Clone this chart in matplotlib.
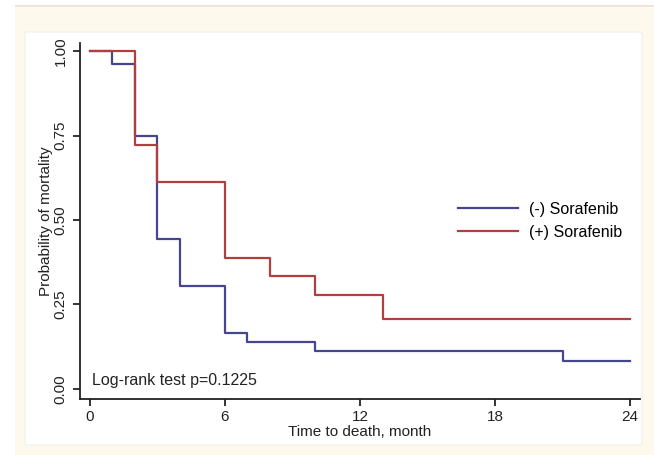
import numpy as np
import matplotlib
matplotlib.use('Agg')
import matplotlib.pyplot as plt
from matplotlib.patches import FancyBboxPatch, Rectangle

plt.rcParams['font.family'] = ['Liberation Sans', 'DejaVu Sans']

# Kaplan-Meier style step data
time_neg = [0, 1, 2, 3, 4, 6, 7, 10, 21, 24]
prob_neg = [1.0, 0.963, 0.75, 0.444, 0.306, 0.167, 0.139, 0.111, 0.083, 0.083]
time_pos = [0, 2, 3, 6, 8, 10, 13, 24]
prob_pos = [1.0, 0.722, 0.611, 0.389, 0.333, 0.278, 0.208, 0.208]

labels = ['(-) Sorafenib', '(+) Sorafenib']
x_ticks = [0, 6, 12, 18, 24]
y_ticks = [0.0, 0.25, 0.50, 0.75, 1.00]
y_ticklabels = ['0.00', '0.25', '0.50', '0.75', '1.00']

W, H = 654, 455
fig = plt.figure(figsize=(W / 100, H / 100), dpi=100, facecolor='white')

# cream page background with a thin pink line on top
fig.patches.append(Rectangle((15 / W, 0), 1 - 15 / W, 1 - 6 / H, transform=fig.transFigure,
                             facecolor='#fdf9ec', edgecolor='none', zorder=-3))
fig.patches.append(Rectangle((15 / W, 1 - 7 / H), 1 - 15 / W, 2 / H, transform=fig.transFigure,
                             facecolor='#f6e2da', edgecolor='none', zorder=-3))
# white graph panel
fig.patches.append(FancyBboxPatch((25 / W, 1 - 445 / H), 617 / W, 413 / H, transform=fig.transFigure,
                                  boxstyle='round,pad=0,rounding_size=0.004',
                                  facecolor='white', edgecolor='#f3efe6', lw=0.8, zorder=-2))

ax = fig.add_axes([80 / W, 56 / H, 560 / W, 356 / H])
ax.set_facecolor('none')
ax.set_zorder(5)

c_neg = '#46468f'
c_pos = '#b03f3f'
ax.step(time_neg, prob_neg, where='post', color=c_neg, lw=1.6, label=labels[0])
ax.step(time_pos, prob_pos, where='post', color=c_pos, lw=1.6, label=labels[1])

ax.set_xlim(-0.444, 24.444)
ax.set_ylim(-0.0296, 1.0237)

for s in ['top', 'right']:
    ax.spines[s].set_visible(False)
for s in ['left', 'bottom']:
    ax.spines[s].set_linewidth(1.3)
    ax.spines[s].set_color('#222222')

ax.set_xticks(x_ticks)
ax.set_yticks(y_ticks)
ax.set_yticklabels(y_ticklabels, rotation=90, va='center')
ax.tick_params(axis='both', direction='out', length=5, width=1.3, color='#222222',
               labelsize=11, labelcolor='#222222')
ax.tick_params(axis='y', pad=4)
ax.tick_params(axis='x', pad=3)

ax.set_xlabel('Time to death, month', fontsize=11, color='#222222', labelpad=0.5)
ax.set_ylabel('Probability of mortality', fontsize=11, color='#222222', labelpad=0)

ax.text(0.1, 0.025, 'Log-rank test p=0.1225', fontsize=11.5, color='#222222',
        va='center', ha='left')

ax.legend(loc='upper left', bbox_to_anchor=(0.675, 0.554), frameon=False, fontsize=11.5,
          handlelength=3.75, handletextpad=0.69, labelspacing=0.52, borderpad=0,
          borderaxespad=0)

fig.savefig('out.png', dpi=100, facecolor=fig.get_facecolor())
